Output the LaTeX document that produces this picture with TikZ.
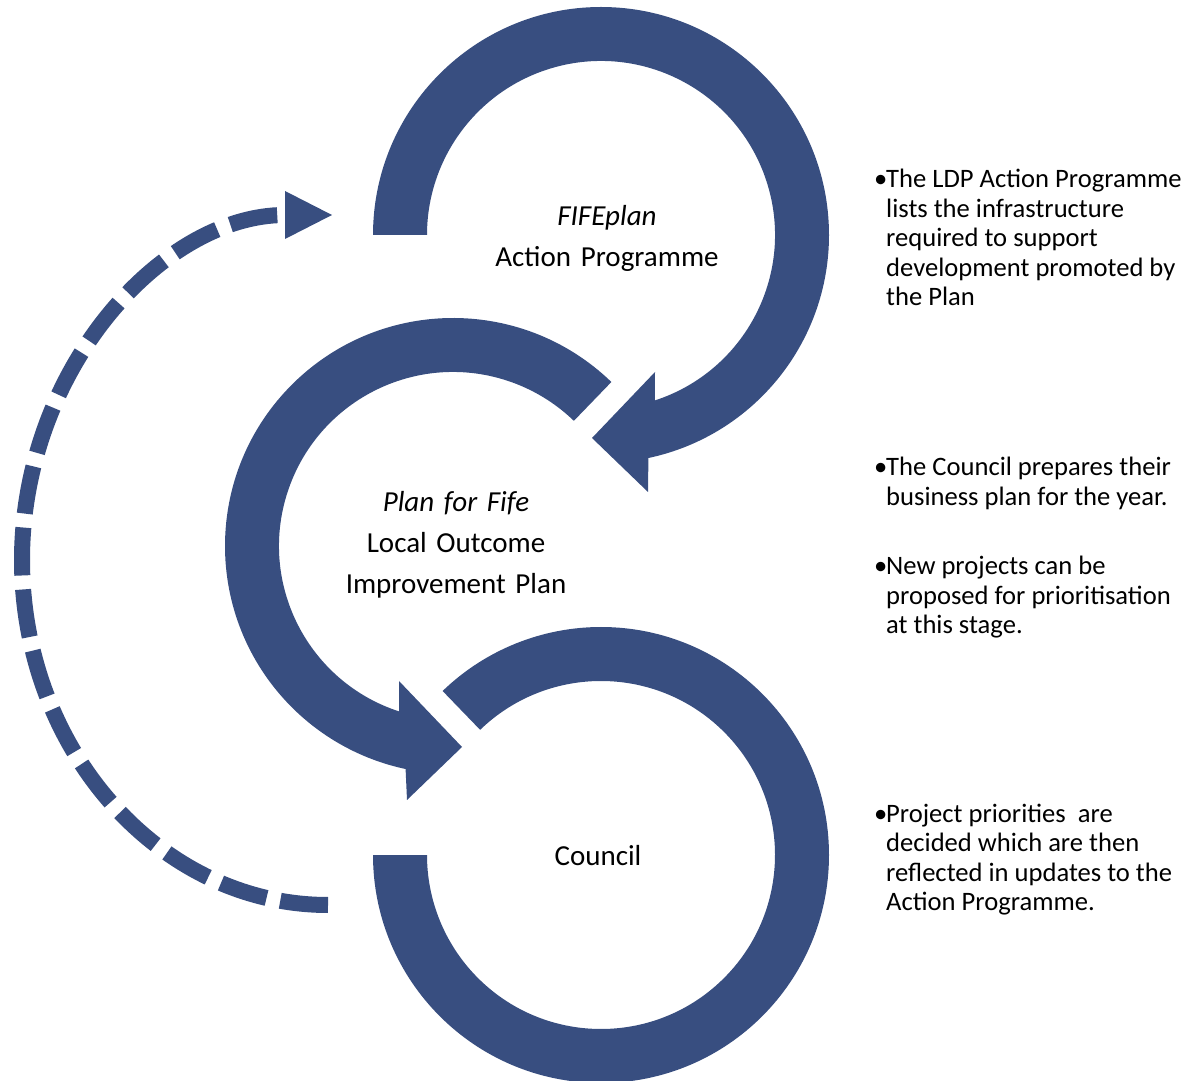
\documentclass[tikz,border=0pt]{standalone}
\usepackage{fontspec}
\setmainfont{Carlito}
\usepackage{tikz}
\usetikzlibrary{arrows.meta}
\definecolor{fife blue}{RGB}{56,78,128}
\newcommand{\bulletnote}[1]{\makebox[12pt][l]{\textbullet}\begin{tabular}[t]{@{}l@{}}#1\end{tabular}}

\begin{document}
\begin{tikzpicture}[x=1pt, y=1pt,
		band/.style = {fill = fife blue},
		stage/.style = {align = center, text width = 300pt, inner sep = 0pt, anchor = base,
			font = \fontsize{29}{41}\selectfont},
		note/.style = {inner sep = 0pt, anchor = base west,
			font = \fontsize{26.6}{29.5}\selectfont},
		feedback/.style = {draw = fife blue, line width = 16pt, dash pattern = on 48pt off 14pt,
			-{Triangle[width = 48pt, length = 47pt, line width = 0pt]}}]
			\useasboundingbox (0, 0) rectangle (1189, 1080);
			% top ring
			\begin{scope}[shift = {(601, 845)}]
				\fill[band] (180:228) arc[start angle = 180, end angle = -78, radius = 228]
					-- (47, -257) -- (-9, -203) -- (54, -137) -- (-72:174)
					arc[start angle = -72, end angle = 180, radius = 174] -- cycle;
			\end{scope}
			% middle ring
			\begin{scope}[shift = {(453, 534)}]
				\fill[band] (46:228) arc[start angle = 46, end angle = 258, radius = 228]
					-- (-46, -254) -- (9, -201) -- (-54, -135) -- (252:174)
					arc[start angle = 252, end angle = 46, radius = 174] -- cycle;
			\end{scope}
			% bottom ring
			\begin{scope}[shift = {(601, 225)}]
				\fill[band] (180:228) arc[start angle = 180, end angle = 494, radius = 228]
					-- (134:174) arc[start angle = 494, end angle = 180, radius = 174] -- cycle;
			\end{scope}
			% feedback loop
			\coordinate (council out) at (328, 175);
			\coordinate (loop left) at (22, 520);
			\coordinate (fifeplan in) at (332, 865);
			\draw[feedback] (council out)
				.. controls +(-168, 0) and +(0, -190) .. (loop left)
				.. controls +(0, 190) and +(-170, 0) .. (fifeplan in);
			% labels
			\node[stage] (fifeplan) at (607, 854) {{\itshape FIFEplan}\\Action Programme};
			\node[stage] (plan for fife) at (456, 568) {{\itshape Plan for Fife}\\Local Outcome\\Improvement Plan};
			\node[stage] (council) at (598, 215) {Council};
			% notes
			\node[note] (note ldp) at (874, 892) {\bulletnote{The LDP Action Programme\\lists the infrastructure\\required to support\\development promoted by\\the Plan}};
			\node[note] (note business) at (874, 604) {\bulletnote{The Council prepares their\\business plan for the year.}};
			\node[note] (note projects) at (874, 505) {\bulletnote{New projects can be\\proposed for prioritisation\\at this stage.}};
			\node[note] (note priorities) at (874, 258) {\bulletnote{Project priorities\ \ are\\decided which are then\\reflected in updates to the\\Action Programme.}};
		\end{tikzpicture}
\end{document}
